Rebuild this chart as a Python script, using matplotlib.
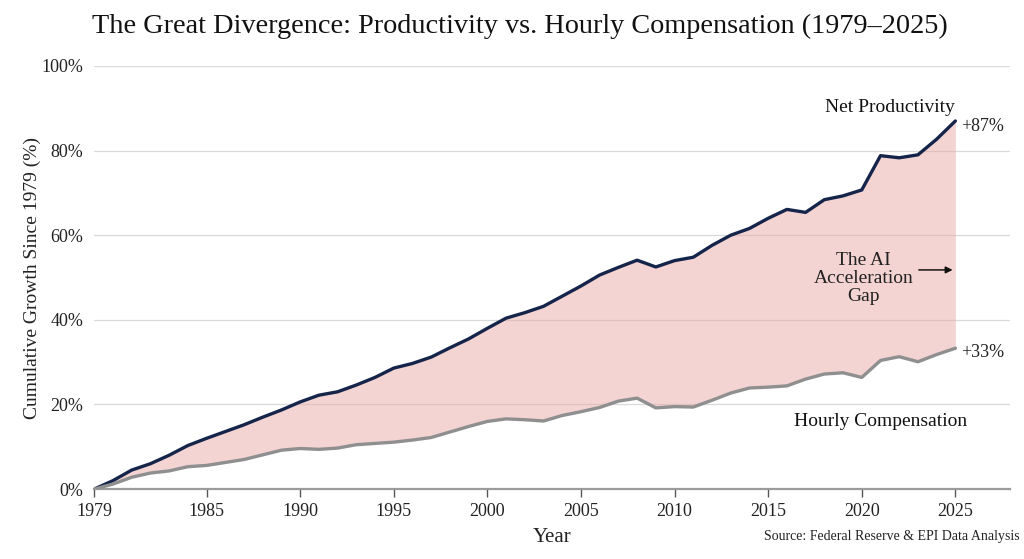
import numpy as np
import matplotlib
matplotlib.use("Agg")
import matplotlib.pyplot as plt
from matplotlib.ticker import FuncFormatter

plt.rcParams["font.family"] = ["Liberation Serif", "DejaVu Serif"]

years = list(range(1979, 2026))
productivity = [
    0.0, 2.0, 4.5, 6.0, 8.0, 10.3, 12.0, 13.6, 15.2, 17.0,
    18.7, 20.6, 22.2, 23.0, 24.6, 26.4, 28.6, 29.7, 31.2, 33.4,
    35.5, 38.0, 40.4, 41.7, 43.2, 45.6, 48.0, 50.6, 52.4, 54.1,
    52.5, 54.0, 54.8, 57.6, 60.0, 61.6, 64.0, 66.1, 65.4, 68.4,
    69.3, 70.7, 78.8, 78.3, 79.0, 82.7, 87.0,
]
compensation = [
    0.0, 1.2, 2.8, 3.8, 4.3, 5.3, 5.6, 6.3, 7.0, 8.1,
    9.2, 9.6, 9.4, 9.7, 10.5, 10.8, 11.1, 11.6, 12.2, 13.5,
    14.8, 16.0, 16.6, 16.4, 16.1, 17.4, 18.3, 19.3, 20.8, 21.5,
    19.2, 19.5, 19.4, 21.0, 22.7, 23.9, 24.1, 24.4, 26.0, 27.2,
    27.5, 26.4, 30.4, 31.3, 30.1, 31.8, 33.3,
]
x_ticks = [1979, 1985, 1990, 1995, 2000, 2005, 2010, 2015, 2020, 2025]
y_ticks = [0, 20, 40, 60, 80, 100]

NAVY = "#15244a"
GREY = "#8f8f8f"
PINK = "#e9aaa7"

fig = plt.figure(figsize=(10.24, 5.59), dpi=100)
ax = fig.add_axes([0.092, 0.125, 0.894, 0.757])

ax.fill_between(years, compensation, productivity, color=PINK, alpha=0.5, linewidth=0, zorder=1)
ax.plot(years, productivity, color=NAVY, linewidth=2.4, zorder=3, solid_capstyle="round")
ax.plot(years, compensation, color=GREY, linewidth=2.4, zorder=3, solid_capstyle="round")

ax.set_xlim(1979, 2027.9)
ax.set_ylim(0, 100)
ax.set_xticks(x_ticks)
ax.set_yticks(y_ticks)
ax.yaxis.set_major_formatter(FuncFormatter(lambda v, p: f"{v:.0f}%"))
ax.grid(axis="y", color="#d9d9d9", linewidth=0.9, zorder=0)
ax.set_axisbelow(True)

for s in ["top", "right", "left"]:
    ax.spines[s].set_visible(False)
ax.spines["bottom"].set_color("#9a9a9a")
ax.spines["bottom"].set_linewidth(1.6)
ax.tick_params(axis="y", length=0, pad=8, labelsize=13, colors="#222222")
ax.tick_params(axis="x", length=6, width=1, color="#555555", pad=4, labelsize=13, colors="#222222")

ax.set_xlabel("Year", fontsize=15, labelpad=6, color="#222222")
ax.set_ylabel("Cumulative Growth Since 1979 (%)", fontsize=14, labelpad=0, color="#222222")

fig.suptitle("The Great Divergence: Productivity vs. Hourly Compensation (1979\u20132025)",
             fontsize=20.3, y=0.975, x=0.508, color="#111111")

ax.text(years[-1] + 0.3, productivity[-1] - 1.2, f"+{productivity[-1]:.0f}%", fontsize=13,
        va="center", ha="left", color="#222222")
ax.text(years[-1] + 0.3, compensation[-1] - 1.0, f"+{compensation[-1]:.0f}%", fontsize=13,
        va="center", ha="left", color="#222222")
ax.text(2021.5, 90.2, "Net Productivity", fontsize=14, ha="center", va="center", color="#111111")
ax.text(2021.0, 16.0, "Hourly Compensation", fontsize=14, ha="center", va="center", color="#111111")
ax.text(2020.1, 49.8, "The AI\nAcceleration\nGap", fontsize=14, ha="center", va="center",
        linespacing=1.1, color="#222222")
ax.annotate("", xy=(2025.0, 51.8), xytext=(2022.9, 51.8),
            arrowprops=dict(arrowstyle="-|>", color="#111111", lw=1.1, mutation_scale=10))

fig.text(0.996, 0.04, "Source: Federal Reserve & EPI Data Analysis", fontsize=10,
         ha="right", va="center", color="#222222")

fig.savefig("out.png", dpi=100)
